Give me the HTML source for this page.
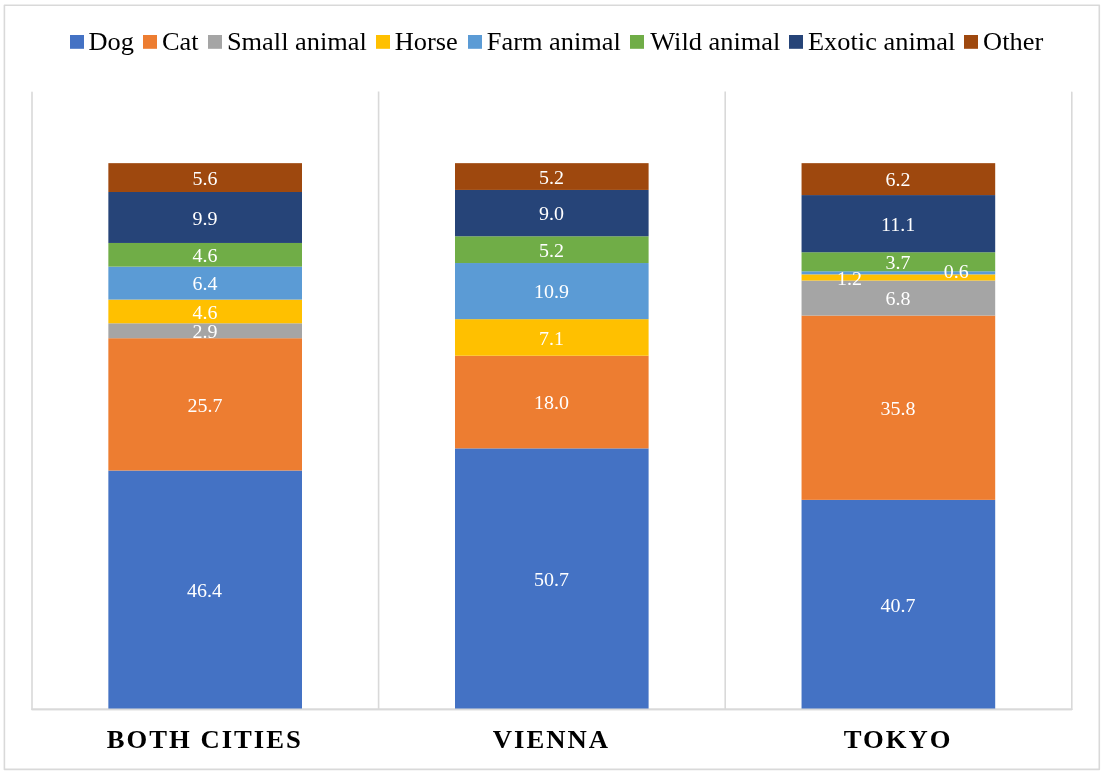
<!DOCTYPE html>
<html lang="en">
<head>
<meta charset="utf-8">
<title>Animal species by city</title>
<style>
html,body{margin:0;padding:0;background:#fff;}
body{width:1105px;height:775px;overflow:hidden;font-family:"Liberation Serif",serif;}
svg{display:block;will-change:transform;}
text{font-family:"Liberation Serif",serif;}
.leg{font-size:26.4px;fill:#000;}
.val{font-size:20px;fill:#fff;text-anchor:middle;}
.cat{font-size:26.67px;font-weight:bold;fill:#000;text-anchor:middle;letter-spacing:2px;}
</style>
</head>
<body>
<svg width="1105" height="775" viewBox="0 0 1105 775">
<rect x="0" y="0" width="1105" height="775" fill="#fff"/>
<rect x="4.4" y="5.3" width="1094.9" height="764.1" fill="none" stroke="#D9D9D9" stroke-width="1.6" stroke-linejoin="round"/>
<g id="legend">
<rect x="70" y="35" width="14" height="13.8" fill="#4472C4"/><text class="leg" transform="translate(88.5,49.7) scale(1,0.95)">Dog</text>
<rect x="143" y="35" width="14" height="13.8" fill="#ED7D31"/><text class="leg" transform="translate(161.9,49.7) scale(1,0.95)">Cat</text>
<rect x="208" y="35" width="14" height="13.8" fill="#A5A5A5"/><text class="leg" transform="translate(226.9,49.7) scale(1,0.95)">Small animal</text>
<rect x="376" y="35" width="14" height="13.8" fill="#FFC000"/><text class="leg" transform="translate(394.8,49.7) scale(1,0.95)">Horse</text>
<rect x="468" y="35" width="14" height="13.8" fill="#5B9BD5"/><text class="leg" transform="translate(486.8,49.7) scale(1,0.95)">Farm animal</text>
<rect x="630" y="35" width="14" height="13.8" fill="#70AD47"/><text class="leg" transform="translate(650.2,49.7) scale(1,0.95)">Wild animal</text>
<rect x="789" y="35" width="14" height="13.8" fill="#264478"/><text class="leg" transform="translate(808,49.7) scale(1,0.95)">Exotic animal</text>
<rect x="964" y="35" width="14" height="13.8" fill="#9E480E"/><text class="leg" transform="translate(983.1,49.7) scale(1,0.95)">Other</text>
</g>
<g id="grid" stroke="#D9D9D9" stroke-width="1.6" fill="none" stroke-linecap="round" stroke-linejoin="round">
<line x1="378.6" y1="91.6" x2="378.6" y2="709.4" stroke-linecap="butt"/>
<line x1="725.2" y1="91.6" x2="725.2" y2="709.4" stroke-linecap="butt"/>
<polyline points="32,92.2 32,709.4 1071.8,709.4 1071.8,92.2"/>
</g>
<g id="bar0">
<rect x="108.35" y="470.52" width="193.65" height="238.88" fill="#4472C4"/>
<rect x="108.35" y="338.21" width="193.65" height="132.31" fill="#ED7D31"/>
<rect x="108.35" y="323.28" width="193.65" height="14.93" fill="#A5A5A5"/>
<rect x="108.35" y="299.59" width="193.65" height="23.68" fill="#FFC000"/>
<rect x="108.35" y="266.64" width="193.65" height="32.95" fill="#5B9BD5"/>
<rect x="108.35" y="242.96" width="193.65" height="23.68" fill="#70AD47"/>
<rect x="108.35" y="191.99" width="193.65" height="50.97" fill="#264478"/>
<rect x="108.35" y="163.16" width="193.65" height="28.83" fill="#9E480E"/>
<text class="val" transform="translate(204.6,596.81) scale(1,0.94)">46.4</text>
<text class="val" transform="translate(204.9,412.06) scale(1,0.94)">25.7</text>
<text class="val" transform="translate(204.9,337.94) scale(1,0.94)">2.9</text>
<text class="val" transform="translate(204.9,318.63) scale(1,0.94)">4.6</text>
<text class="val" transform="translate(204.9,289.62) scale(1,0.94)">6.4</text>
<text class="val" transform="translate(204.9,261.5) scale(1,0.94)">4.6</text>
<text class="val" transform="translate(204.9,225.18) scale(1,0.94)">9.9</text>
<text class="val" transform="translate(204.9,185.28) scale(1,0.94)">5.6</text>
<text class="cat" transform="translate(204.8,748.3) scale(1,0.95)">BOTH CITIES</text>
</g>
<g id="bar1">
<rect x="455" y="448.38" width="193.6" height="261.02" fill="#4472C4"/>
<rect x="455" y="355.71" width="193.6" height="92.67" fill="#ED7D31"/>
<rect x="455" y="319.16" width="193.6" height="36.55" fill="#FFC000"/>
<rect x="455" y="263.04" width="193.6" height="56.12" fill="#5B9BD5"/>
<rect x="455" y="236.27" width="193.6" height="26.77" fill="#70AD47"/>
<rect x="455" y="189.93" width="193.6" height="46.33" fill="#264478"/>
<rect x="455" y="163.16" width="193.6" height="26.77" fill="#9E480E"/>
<text class="val" transform="translate(551.5,585.69) scale(1,0.94)">50.7</text>
<text class="val" transform="translate(551.5,408.84) scale(1,0.94)">18.0</text>
<text class="val" transform="translate(551.5,345.13) scale(1,0.94)">7.1</text>
<text class="val" transform="translate(551.5,297.8) scale(1,0.94)">10.9</text>
<text class="val" transform="translate(551.5,257.35) scale(1,0.94)">5.2</text>
<text class="val" transform="translate(551.5,219.8) scale(1,0.94)">9.0</text>
<text class="val" transform="translate(551.5,184.25) scale(1,0.94)">5.2</text>
<text class="cat" transform="translate(551.4,748.3) scale(1,0.95)">VIENNA</text>
</g>
<g id="bar2">
<rect x="801.55" y="499.86" width="193.65" height="209.54" fill="#4472C4"/>
<rect x="801.55" y="315.55" width="193.65" height="184.31" fill="#ED7D31"/>
<rect x="801.55" y="280.54" width="193.65" height="35.01" fill="#A5A5A5"/>
<rect x="801.55" y="274.37" width="193.65" height="6.18" fill="#FFC000"/>
<rect x="801.55" y="271.28" width="193.65" height="3.09" fill="#5B9BD5"/>
<rect x="801.55" y="252.23" width="193.65" height="19.05" fill="#70AD47"/>
<rect x="801.55" y="195.08" width="193.65" height="57.15" fill="#264478"/>
<rect x="801.55" y="163.16" width="193.65" height="31.92" fill="#9E480E"/>
<text class="val" transform="translate(898.1,612.33) scale(1,0.94)">40.7</text>
<text class="val" transform="translate(898.1,415.41) scale(1,0.94)">35.8</text>
<text class="val" transform="translate(898.1,304.85) scale(1,0.94)">6.8</text>
<text class="val" transform="translate(849.4,285.15) scale(1,0.94)">1.2</text>
<text class="val" transform="translate(956.2,277.82) scale(1,0.94)">0.6</text>
<text class="val" transform="translate(898.1,269.45) scale(1,0.94)">3.7</text>
<text class="val" transform="translate(898.1,231.05) scale(1,0.94)">11.1</text>
<text class="val" transform="translate(898.1,185.82) scale(1,0.94)">6.2</text>
<text class="cat" transform="translate(898,748.3) scale(1,0.95)">TOKYO</text>
</g>
<line x1="32" y1="709.4" x2="1071.8" y2="709.4" stroke="#D9D9D9" stroke-width="1.6" stroke-linecap="round"/>
</svg>
</body>
</html>
